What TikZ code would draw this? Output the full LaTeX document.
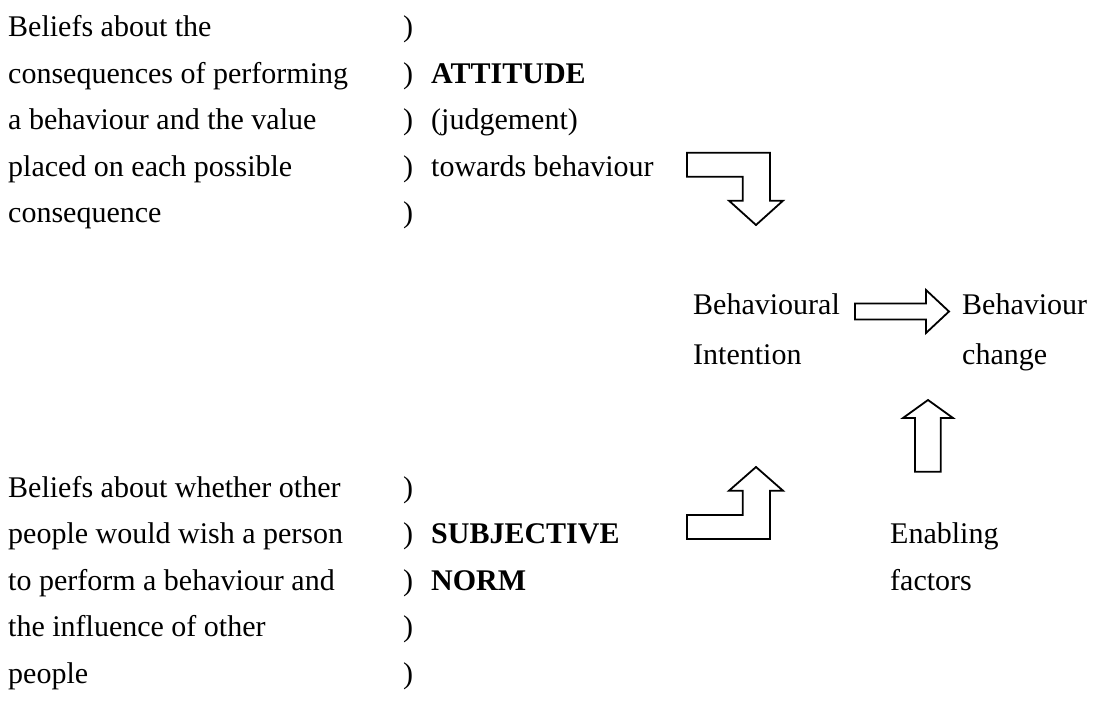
\documentclass[tikz,border=0pt]{standalone}
\usepackage{fontspec}
\setmainfont{Liberation Serif}
\begin{document}
\begin{tikzpicture}[x=1pt,y=-1pt,
  txt/.style={anchor=base west,inner sep=0pt,font=\fontsize{30}{32}\selectfont},
  btxt/.style={txt,font=\fontsize{30}{32}\selectfont\bfseries},
  blockarrow/.style={draw=black,line width=1.8pt,fill=white,line join=miter}]
\useasboundingbox (0,0) rectangle (1114,708);
% top group
\node[txt] (a1) at (8,37) {Beliefs about the};
\node[txt] (a2) at (8,83.5) {consequences of performing};
\node[txt] (a3) at (8,130) {a behaviour and the value};
\node[txt] (a4) at (8,176.5) {placed on each possible};
\node[txt] (a5) at (8,223) {consequence};
\foreach \k/\y in {1/37,2/83.5,3/130,4/176.5,5/223}
  \node[txt] (pa\k) at (403,\y) {)};
\node[btxt] (att) at (431,83.5) {ATTITUDE};
\node[txt] (jud) at (431,130) {(judgement)};
\node[txt] (tow) at (431,176.5) {towards behaviour};
% bottom group
\node[txt] (b1) at (8,497) {Beliefs about whether other};
\node[txt] (b2) at (8,543.5) {people would wish a person};
\node[txt] (b3) at (8,590) {to perform a behaviour and};
\node[txt] (b4) at (8,636.5) {the influence of other};
\node[txt] (b5) at (8,683) {people};
\foreach \k/\y in {1/497,2/543.5,3/590,4/636.5,5/683}
  \node[txt] (pb\k) at (403,\y) {)};
\node[btxt] (subj) at (431,543.5) {SUBJECTIVE};
\node[btxt] (norm) at (431,590) {NORM};
% middle
\node[txt] (bi1) at (693,315) {Behavioural};
\node[txt] (bi2) at (693,365) {Intention};
\node[txt] (bc1) at (962,315) {Behaviour};
\node[txt] (bc2) at (962,365) {change};
\node[txt] (ef1) at (890,543.5) {Enabling};
\node[txt] (ef2) at (890,590) {factors};
% arrows
\draw[blockarrow] (687,152.7) -- (770,152.7) -- (770,200.7) -- (783,200.7) -- (756,225)
  -- (729,200.7) -- (742.7,200.7) -- (742.7,176.7) -- (687,176.7) -- cycle;
\draw[blockarrow] (687,515) -- (742.7,515) -- (742.7,490.7) -- (729,490.7) -- (756,467)
  -- (783,490.7) -- (770,490.7) -- (770,539) -- (687,539) -- cycle;
\draw[blockarrow] (855,303.5) -- (926,303.5) -- (926,290) -- (949,311.5) -- (926,333)
  -- (926,319.5) -- (855,319.5) -- cycle;
\draw[blockarrow] (915,471.7) -- (915,418) -- (903,418) -- (928,400) -- (953,418)
  -- (940.7,418) -- (940.7,471.7) -- cycle;
\end{tikzpicture}
\end{document}
